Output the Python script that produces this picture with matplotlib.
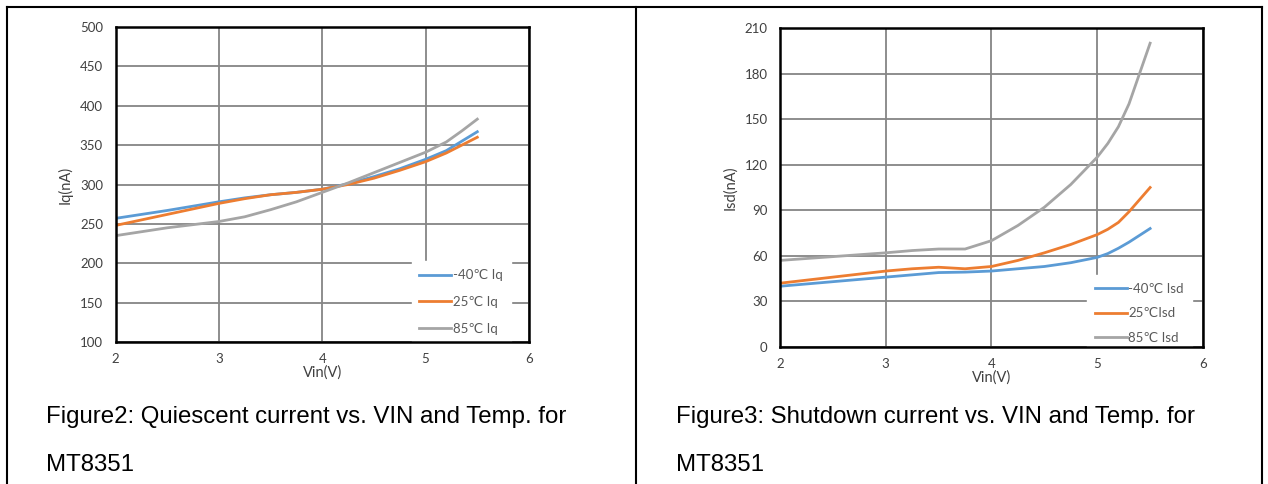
import numpy as np
import matplotlib
matplotlib.use("Agg")
import matplotlib.pyplot as plt
from matplotlib.lines import Line2D

plt.rcParams['font.family'] = ['Lato', 'DejaVu Sans']

# Figure2 - quiescent current (nA) vs Vin
vin_q = [2.0, 2.5, 3.0, 3.25, 3.5, 3.75, 4.0, 4.25, 4.5, 4.75, 5.0, 5.2, 5.35, 5.5]
iq_m40 = [257, 267, 278, 283, 287, 290, 294, 301, 310, 320, 332, 343, 355, 367]
iq_25 = [248, 262, 276, 282, 287, 290, 294, 300, 308, 318, 329, 340, 350, 360]
iq_85 = [235, 245, 253, 259, 268, 278, 290, 302, 315, 328, 341, 354, 368, 383]

# Figure3 - shutdown current (nA) vs Vin
vin_s = [2.0, 2.5, 3.0, 3.25, 3.5, 3.75, 4.0, 4.25, 4.5, 4.75, 5.0, 5.1, 5.2, 5.3, 5.4, 5.5]
isd_m40 = [40, 43, 46, 47.5, 49, 49.3, 50, 51.5, 53, 55.5, 59, 61.5, 65, 69, 73.5, 78]
isd_25 = [42, 46, 50, 51.5, 52.5, 51.5, 53, 57, 62, 67.5, 74, 77.5, 82, 89, 97, 105]
isd_85 = [57, 59.5, 62, 63.5, 64.5, 64.5, 70, 80, 92, 107, 125, 134, 145, 160, 180, 200]

colors = ['#5B9BD5', '#ED7D31', '#A5A5A5']
labels_q = ['-40\u2103 Iq', '25\u2103 Iq', '85\u2103 Iq']
labels_s = ['-40\u2103 Isd', '25\u2103Isd', '85\u2103 Isd']

W, H = 1268, 484
fig = plt.figure(figsize=(W / 100, H / 100), dpi=100)

def px_axes(x0, x1, y0, y1):
    return fig.add_axes([x0 / W, 1 - y1 / H, (x1 - x0) / W, (y1 - y0) / H])

def style(ax, ylim, yticks, ylabel, leg_box, labels, series, xs, spacing):
    for ys, c, lab in zip(series, colors, labels):
        ax.plot(xs, ys, color=c, lw=2, label=lab, zorder=3)
    ax.set_xlim(2, 6)
    ax.set_ylim(*ylim)
    ax.set_xticks([2, 3, 4, 5, 6])
    ax.set_yticks(yticks)
    ax.grid(True, color='#858585', lw=1.3, zorder=1)
    ax.set_axisbelow(True)
    for s in ax.spines.values():
        s.set_color('black')
        s.set_linewidth(1.8)
        s.set_zorder(6)
    ax.tick_params(length=0, labelsize=9.5, labelcolor='#404040')
    ax.tick_params(axis='x', pad=8)
    ax.tick_params(axis='y', pad=9)
    ax.set_xlabel('Vin(V)', fontsize=10.5, color='#404040', labelpad=0)
    ax.set_ylabel(ylabel, fontsize=10.5, color='#404040', labelpad=5)
    leg = ax.legend(loc='center left', bbox_to_anchor=leg_box, frameon=True,
                    fancybox=False, edgecolor='white', facecolor='white',
                    framealpha=1, fontsize=9.5, handlelength=2.4,
                    labelspacing=spacing, handletextpad=0.15, borderpad=0.6)
    for t in leg.get_texts():
        t.set_color('#595959')
    leg.set_zorder(5)

ax1 = px_axes(115.5, 529, 27, 342)
style(ax1, (100, 500), range(100, 501, 50), 'Iq(nA)', (0.70, 0.127),
      labels_q, [iq_m40, iq_25, iq_85], vin_q, 1.12)

ax2 = px_axes(780, 1203, 28, 347)
style(ax2, (0, 210), range(0, 211, 30), 'Isd(nA)', (0.71, 0.106),
      labels_s, [isd_m40, isd_25, isd_85], vin_s, 0.95)

# table borders
for xs_, ys_ in [([7, 7], [7, 484]), ([636, 636], [7, 484]),
                 ([1262, 1262], [7, 484]), ([7, 1262], [7, 7])]:
    fig.add_artist(Line2D([x / W for x in xs_], [1 - y / H for y in ys_],
                          color='black', lw=1.5))

cap = dict(fontsize=17.3, family='Liberation Sans', va='center', color='black')
fig.text(46 / W, 1 - 417 / H, 'Figure2: Quiescent current vs. VIN and Temp. for', **cap)
fig.text(46 / W, 1 - 465 / H, 'MT8351', **cap)
fig.text(676 / W, 1 - 417 / H, 'Figure3: Shutdown current vs. VIN and Temp. for', **cap)
fig.text(676 / W, 1 - 465 / H, 'MT8351', **cap)

fig.savefig('out.png', dpi=100)
